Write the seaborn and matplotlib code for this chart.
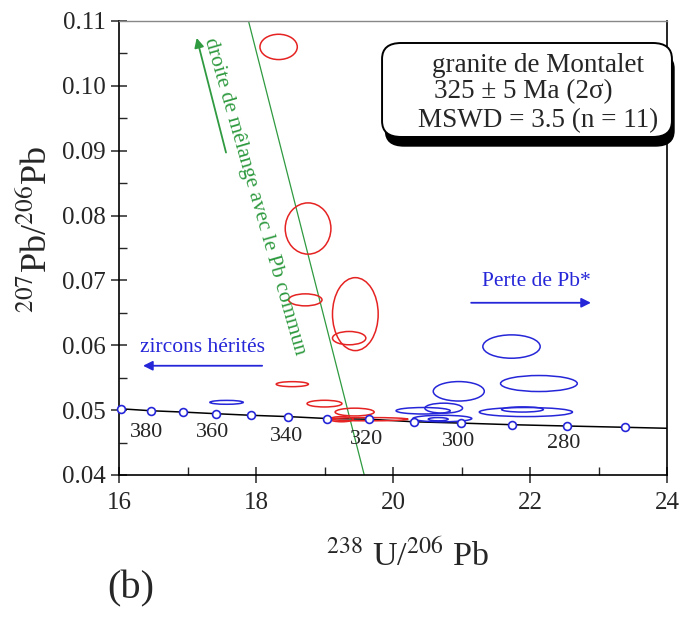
import matplotlib
matplotlib.use("Agg")
import matplotlib.pyplot as plt
import matplotlib.patheffects as pe
from matplotlib.patches import Ellipse, FancyBboxPatch
import pandas as pd
import seaborn as sns

# concordia points (ages in Ma)
ages = [390, 380, 370, 360, 350, 340, 330, 320, 310, 300, 290, 280, 270]
conc_x = [16.03, 16.47, 16.93, 17.41, 17.93, 18.47, 19.04, 19.65, 20.30, 20.99, 21.74, 22.54, 23.39]
conc_y = [0.0502, 0.0499, 0.0497, 0.04945, 0.0492, 0.0490, 0.0487, 0.0486, 0.0482, 0.0480, 0.04775, 0.04755, 0.04735]
conc_end_x = [16.0, 24.0]
conc_end_y = [0.0502, 0.0472]

# labelled ages on the concordia
label_ages = ["380", "360", "340", "320", "300", "280"]
label_x = [16.40, 17.36, 18.45, 19.62, 20.96, 22.49]
label_y = [0.0465, 0.0465, 0.0459, 0.0454, 0.0451, 0.0449]

# common-Pb mixing line
mix_x = [17.89, 19.58]
mix_y = [0.110, 0.040]

# error ellipses (centre, full width, full height)
red_x = [18.33, 18.76, 18.72, 19.45, 19.36, 18.53, 19.00, 19.44, 19.65, 19.25]
red_y = [0.1060, 0.0780, 0.0670, 0.0648, 0.0611, 0.0540, 0.0510, 0.0497, 0.0486, 0.0486]
red_w = [0.545, 0.667, 0.487, 0.667, 0.487, 0.47, 0.51, 0.57, 1.14, 0.34]
red_h = [0.0039, 0.0079, 0.00185, 0.01125, 0.00205, 0.00077, 0.00103, 0.0012, 0.0005, 0.0008]

blue_x = [21.73, 22.13, 20.96, 20.74, 20.44, 20.72, 20.66, 21.94, 21.89, 17.57]
blue_y = [0.0598, 0.0541, 0.0529, 0.0503, 0.0499, 0.0487, 0.0486, 0.0497, 0.0501, 0.0512]
blue_w = [0.837, 1.12, 0.745, 0.55, 0.79, 0.86, 0.29, 1.36, 0.61, 0.487]
blue_h = [0.0036, 0.00247, 0.0030, 0.00154, 0.0010, 0.0010, 0.0005, 0.0014, 0.0008, 0.0006]

# text of the result box
box_lines = ["granite de Montalet", "325 ± 5 Ma (2σ)", "MSWD = 3.5 (n = 11)"]

RED = "#e52322"
BLUE = "#2626d9"
GREEN = "#2f9a40"

sns.set_style("ticks")
plt.rcParams["font.family"] = ["Liberation Serif", "DejaVu Serif"]
plt.rcParams["mathtext.fontset"] = "stix"

fig = plt.figure(figsize=(6.86, 6.17), dpi=100)
ax = fig.add_axes([0.1735, 0.2302, 0.7988, 0.7358])

# concordia
line_df = pd.DataFrame({"x": [conc_end_x[0]] + conc_x + [conc_end_x[1]],
                        "y": [conc_end_y[0]] + conc_y + [conc_end_y[1]]})
sns.lineplot(data=line_df, x="x", y="y", color="black", lw=1.1, sort=False, ax=ax, zorder=2)

# mixing line
mix_df = pd.DataFrame({"x": mix_x, "y": mix_y})
sns.lineplot(data=mix_df, x="x", y="y", color=GREEN, lw=0.9, ax=ax, zorder=2)

# ellipses
for x, y, w, h in zip(red_x, red_y, red_w, red_h):
    ax.add_patch(Ellipse((x, y), w, h, fill=False, ec=RED, lw=1.1, zorder=3))
for x, y, w, h in zip(blue_x, blue_y, blue_w, blue_h):
    ax.add_patch(Ellipse((x, y), w, h, fill=False, ec=BLUE, lw=1.1, zorder=3))

conc_df = pd.DataFrame({"x": conc_x, "y": conc_y, "age": ages})
sns.scatterplot(data=conc_df, x="x", y="y", marker="o", s=32, facecolor="white",
                edgecolor=BLUE, linewidth=1.2, ax=ax, zorder=4, clip_on=False)

for lab, x, y in zip(label_ages, label_x, label_y):
    ax.text(x, y, lab, ha="center", va="center", fontsize=16)

# annotations
ax.annotate("", xy=(16.31, 0.05684), xytext=(18.13, 0.05684),
            arrowprops=dict(arrowstyle="-|>", color=BLUE, lw=1.3, mutation_scale=14))
ax.text(17.22, 0.0596, "zircons hérités", color=BLUE, ha="center", va="center", fontsize=15.5)
ax.annotate("", xy=(22.93, 0.06655), xytext=(21.10, 0.06655),
            arrowprops=dict(arrowstyle="-|>", color=BLUE, lw=1.3, mutation_scale=14))
ax.text(22.10, 0.0699, "Perte de Pb*", color=BLUE, ha="center", va="center", fontsize=15.5)
ax.annotate("", xy=(17.124, 0.1078), xytext=(17.572, 0.0893),
            arrowprops=dict(arrowstyle="-|>", color=GREEN, lw=1.3, mutation_scale=14))
ax.text(17.98, 0.0830, "droite de mêlange avec le Pb commun", color=GREEN,
        ha="center", va="center", rotation=-74, rotation_mode="anchor", fontsize=15.5)

# result box with a drop shadow, reaching a little past the right spine
panel = FancyBboxPatch((0.480, 0.7445), 0.529, 0.207, boxstyle="round,pad=0,rounding_size=0.035",
                       transform=ax.transAxes, fc="white", ec="black", lw=1.4,
                       clip_on=False, zorder=6)
panel.set_path_effects([pe.SimplePatchShadow(offset=(2, -7), shadow_rgbFace="black", alpha=1.0),
                        pe.Normal()])
ax.add_patch(panel)
for txt, tx, ty in zip(box_lines, [0.7637, 0.737, 0.7646], [0.888, 0.830, 0.767]):
    ax.text(tx, ty, txt, transform=ax.transAxes, ha="center", va="baseline",
            fontsize=19.5, zorder=7, clip_on=False)

ax.set_xlim(16, 24)
ax.set_ylim(0.04, 0.11)
ax.set_xticks([16, 18, 20, 22, 24])
ax.set_xticks([17, 19, 21, 23], minor=True)
ax.set_yticks([0.04, 0.05, 0.06, 0.07, 0.08, 0.09, 0.10, 0.11])
ax.set_yticks([0.045, 0.055, 0.065, 0.075, 0.085, 0.095, 0.105], minor=True)
ax.set_yticklabels(["0.04", "0.05", "0.06", "0.07", "0.08", "0.09", "0.10", "0.11"])
ax.tick_params(which="major", direction="inout", length=11, width=1.1, labelsize=18, pad=4)
ax.tick_params(which="minor", direction="in", length=6, width=1.0)
ax.tick_params(axis="x", pad=7)
for side in ["left", "bottom", "right"]:
    ax.spines[side].set_color("black")
    ax.spines[side].set_linewidth(1.2)
ax.spines["top"].set_color("#888888")
ax.spines["top"].set_linewidth(1.0)

ax.set_xlabel(r"$^{238}$ U/$^{206}$ Pb", fontsize=24.5)
ax.set_ylabel(r"$^{207}$Pb/$^{206}$Pb", fontsize=26)
ax.xaxis.set_label_coords(0.527, -0.143)
ax.yaxis.set_label_coords(-0.118, 0.54)

fig.text(0.19, 0.045, "(b)", fontsize=29, ha="center", va="center")

fig.savefig("out.png", dpi=100)
